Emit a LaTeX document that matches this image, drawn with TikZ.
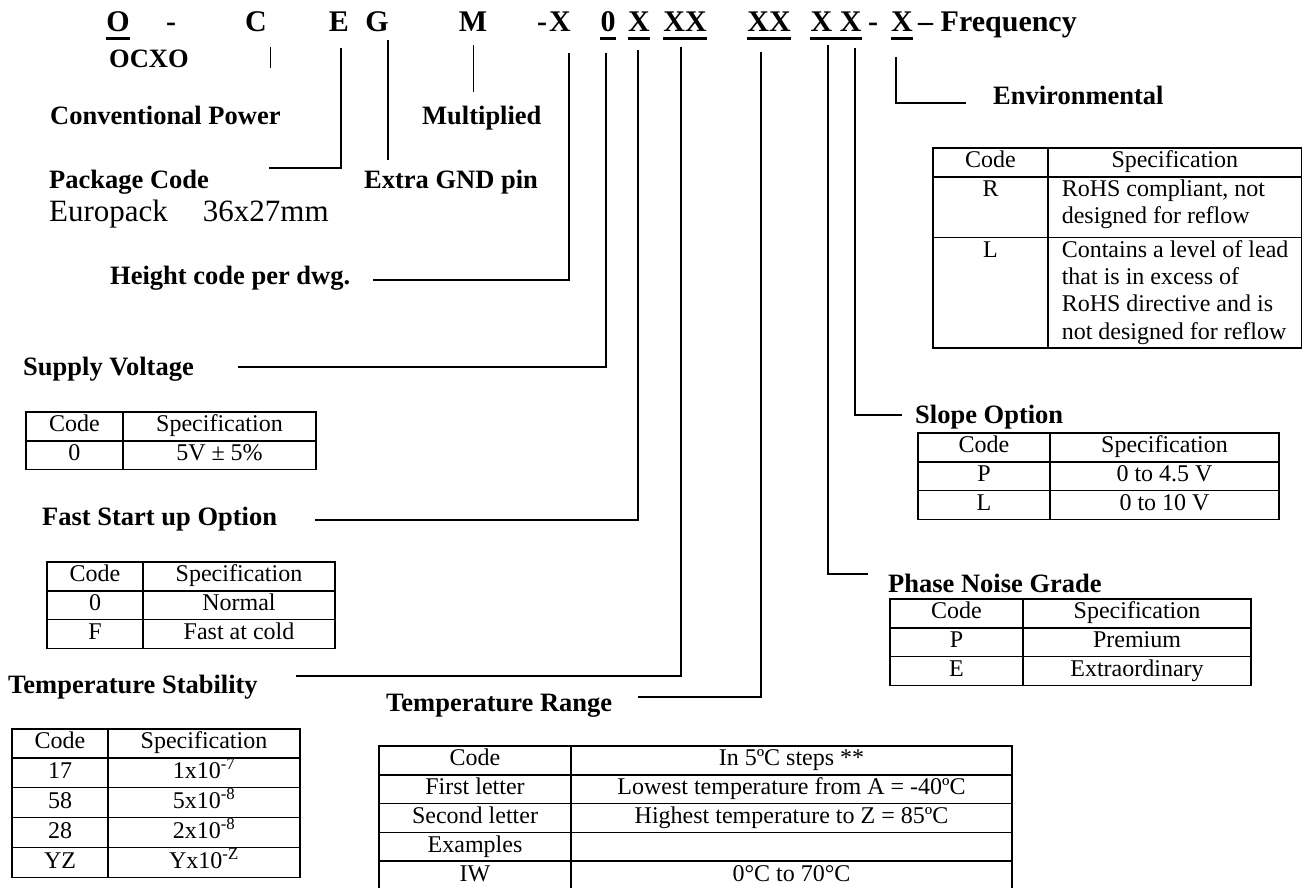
\documentclass[tikz,border=0pt]{standalone}
\usepackage{fontspec}
\setmainfont{Liberation Serif}
\usepackage{array}
\usepackage{tikz}
\usetikzlibrary{positioning}
\newcolumntype{C}[1]{>{\centering\arraybackslash}p{#1}}
\newcolumntype{L}[1]{>{\raggedright\arraybackslash\leftskip=13pt}p{#1}}
\newcommand{\tabfont}{\fontsize{24}{27.2}\selectfont}
\setlength{\tabcolsep}{0pt}
\setlength{\arrayrulewidth}{1.6pt}

\begin{document}
\begin{tikzpicture}[x=1pt,y=-1pt,
  ttl/.style={font=\fontsize{30}{34}\selectfont\bfseries, inner sep=0pt, anchor=base},
  lbl/.style={font=\fontsize{26.5}{30}\selectfont\bfseries, inner sep=0pt, anchor=base west},
  tbl/.style={font=\tabfont, inner sep=0pt, anchor=north west},
  lead/.style={line width=1.5pt},
  uline/.style={line width=3pt}]
\useasboundingbox (0,0) rectangle (1304,888);

% part number
\node[ttl] (tO) at (118,32) {O};
\node[ttl] (tDashA) at (171,32) {-};
\node[ttl] (tC) at (256,32) {C};
\node[ttl] (tE) at (339,32) {E};
\node[ttl] (tG) at (377,32) {G};
\node[ttl] (tM) at (473,32) {M};
\node[ttl] (tDashB) at (542,32) {-};
\node[ttl] (tXa) at (560,32) {X};
\node[ttl] (tZero) at (608,32) {0};
\node[ttl] (tXb) at (639,32) {X};
\node[ttl] (tXXa) at (685,32) {XX};
\node[ttl] (tXXb) at (769,32) {XX};
\node[ttl] (tXXc) at (836,32) {X X};
\node[ttl] (tDashC) at (873,32) {-};
\node[ttl] (tXd) at (902,32) {X};
\node[ttl, anchor=base west] (tFreq) at (918,32) {– Frequency};
\foreach \n in {tO,tZero,tXb,tXXa,tXXb,tXXc,tXd}
  \draw[uline] ([yshift=-7pt]\n.base west) -- ([yshift=-7pt]\n.base east);

% labels
\node[lbl] (lOCXO) at (109,68) {OCXO};
\node[lbl] (lConv) at (50,125) {Conventional Power};
\node[lbl] (lMult) at (422,125) {Multiplied};
\node[lbl] (lPkg) at (49,188) {Package Code};
\node[lbl] (lExtra) at (364,188) {Extra GND pin};
\node[lbl, font=\fontsize{31}{36}\selectfont] (lEuro) at (49,221) {Europack\hspace{35pt}36x27mm};
\node[lbl] (lHeight) at (110,284) {Height code per dwg.};
\node[lbl] (lSupply) at (23,375) {Supply Voltage};
\node[lbl] (lFast) at (42,525) {Fast Start up Option};
\node[lbl] (lTS) at (8,693) {Temperature Stability};
\node[lbl] (lTR) at (386,711) {Temperature Range};
\node[lbl] (lEnv) at (993,105) {Environmental};
\node[lbl] (lSlope) at (915,423) {Slope Option};
\node[lbl] (lPhase) at (888,592) {Phase Noise Grade};

% leads
\coordinate (aC) at (270,47);   \coordinate (bC) at (270,68);
\coordinate (aE) at (341,48);   \coordinate (bE) at (269,168);
\coordinate (aG) at (388,40);   \coordinate (bG) at (388,160);
\coordinate (aM) at (473,45);   \coordinate (bM) at (473,92);
\coordinate (aXa) at (569,53);  \coordinate (bXa) at (373,280);
\coordinate (aZero) at (606,53); \coordinate (bZero) at (238,367);
\coordinate (aXb) at (638,50);  \coordinate (bXb) at (315,520);
\coordinate (aXXa) at (681,47); \coordinate (bXXa) at (296,676);
\coordinate (aXXb) at (761,52); \coordinate (bXXb) at (638,697);
\coordinate (aPh) at (828,45);  \coordinate (bPh) at (868,574);
\coordinate (aSl) at (855,48);  \coordinate (bSl) at (902,415);
\coordinate (aXd) at (896,57);  \coordinate (bXd) at (966,103);
\draw[line width=1pt] (aC) -- (bC);
\draw[lead] (aE) |- (bE);
\draw[lead] (aG) -- (bG);
\draw[line width=1pt] (aM) -- (bM);
\draw[lead] (aXa) |- (bXa);
\draw[lead] (aZero) |- (bZero);
\draw[lead] (aXb) |- (bXb);
\draw[lead] (aXXa) |- (bXXa);
\draw[lead] (aXXb) |- (bXXb);
\draw[lead] (aPh) |- (bPh);
\draw[lead] (aSl) |- (bSl);
\draw[lead] (aXd) |- (bXd);

% tables
\node[tbl] (tbEnv) at (932,147) {\begin{tabular}{|C{113.4pt}|L{252pt}|}\hline
Code & \multicolumn{1}{C{252pt}|}{Specification}\\\hline
R & RoHS compliant, not\newline designed for reflow\rule[-13pt]{0pt}{13pt}\\\hline
L & Contains a level of lead\newline that is in excess of\newline RoHS directive and is\newline not designed for reflow\\\hline
\end{tabular}};
\node[tbl] (tbSupply) at (25,411) {\begin{tabular}{|C{95.4pt}|C{191.4pt}|}\hline
Code & Specification\\\hline
0 & 5V ± 5\%\\\hline
\end{tabular}};
\node[tbl] (tbFast) at (46,561) {\begin{tabular}{|C{94.4pt}|C{190.4pt}|}\hline
Code & Specification\\\hline
0 & Normal\\\hline
F & Fast at cold\\\hline
\end{tabular}};
\node[tbl] (tbTS) at (11,728) {\begin{tabular}{|C{94.4pt}|C{190.4pt}|}\hline
Code & Specification\\\hline
17 & 1x10\textsuperscript{-7}\\\hline
58 & 5x10\textsuperscript{-8}\\\hline
28 & 2x10\textsuperscript{-8}\\\hline
YZ & Yx10\textsuperscript{-Z}\\\hline
\end{tabular}};
\node[tbl] (tbTR) at (378,745) {\begin{tabular}{|C{190.4pt}|C{439.4pt}|}\hline
Code & In 5ºC steps **\\\hline
First letter & Lowest temperature from A = -40ºC\\\hline
Second letter & Highest temperature to Z = 85ºC\\\hline
Examples & \\\hline
IW & 0°C to 70°C\\\hline
\end{tabular}};
\node[tbl] (tbSlope) at (917,432) {\begin{tabular}{|C{130.4pt}|C{227.4pt}|}\hline
Code & Specification\\\hline
P & 0 to 4.5 V\\\hline
L & 0 to 10 V\\\hline
\end{tabular}};
\node[tbl] (tbPhase) at (889,598) {\begin{tabular}{|C{131.4pt}|C{226.4pt}|}\hline
Code & Specification\\\hline
P & Premium\\\hline
E & Extraordinary\\\hline
\end{tabular}};
\end{tikzpicture}
\end{document}
